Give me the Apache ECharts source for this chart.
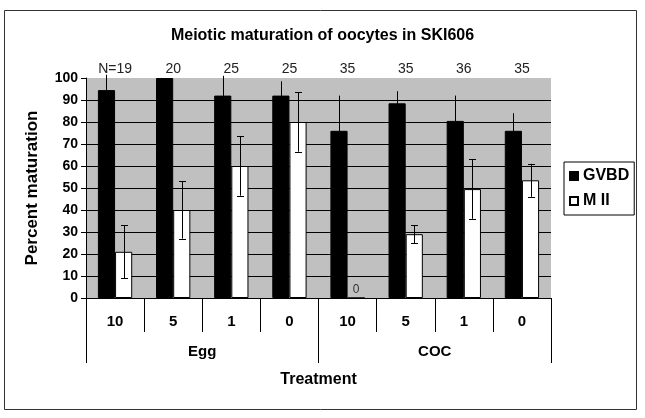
<!DOCTYPE html>
<html>
<head>
<meta charset="utf-8">
<script src="https://cdn.jsdelivr.net/npm/echarts@6/dist/echarts.min.js"></script>
<style>
html,body{margin:0;padding:0;background:#fff;}
#c{width:645px;height:418px;}
</style>
</head>
<body>
<div id="c"></div>
<script>
const categories = ['10', '5', '1', '0', '10', '5', '1', '0'];
const groups = ['Egg', 'COC'];
const nLabels = ['N=19', '20', '25', '25', '35', '35', '36', '35'];
const gvbd = [94.5, 100, 92, 92, 76, 88.5, 80.5, 76];
const gvbdErr = [7, 0, 9, 6.5, 16, 5.5, 11.5, 8];
const mii = [21, 40, 60, 80, 0, 29, 49.5, 53.5];
const miiErr = [12, 13, 13.5, 13.5, 0, 4, 13.5, 7.5];
const yTicks = [0, 10, 20, 30, 40, 50, 60, 70, 80, 90, 100];

const FONT = '"Liberation Sans", Arial, sans-serif';
const GAP = 0.41;

function errRender(side, caps) {
  return function (params, api) {
    const i = api.value(0), v = api.value(1), e = api.value(2);
    if (!e) return null;
    const band = api.size([1, 0])[0];
    const barW = band * (1 - GAP) / 2;
    const c = api.coord([i, v]);
    const x = Math.round(c[0] + side * barW / 2) + 0.5;
    const top = api.coord([i, v + e])[1];
    const bot = api.coord([i, Math.max(v - e, 0)])[1];
    const st = { stroke: '#000', lineWidth: 1 };
    const children = [{ type: 'line', shape: { x1: x, y1: top, x2: x, y2: bot }, style: st }];
    if (caps) {
      const h = 3.5;
      children.push({ type: 'line', shape: { x1: x - h, y1: Math.round(top) + 0.5, x2: x + h, y2: Math.round(top) + 0.5 }, style: st });
      children.push({ type: 'line', shape: { x1: x - h, y1: Math.round(bot) + 0.5, x2: x + h, y2: Math.round(bot) + 0.5 }, style: st });
    }
    return { type: 'group', children: children };
  };
}

const chart = echarts.init(document.getElementById('c'), null, { renderer: 'canvas' });
chart.setOption({
  animation: false,
  backgroundColor: '#fff',
  textStyle: { fontFamily: FONT },
  title: {
    text: 'Meiotic maturation of oocytes in SKI606',
    left: 'center', top: 23,
    textStyle: { fontFamily: FONT, fontSize: 16, fontWeight: 'bold', color: '#000' }
  },
  graphic: [{
    type: 'rect', shape: { x: 4.5, y: 10.5, width: 632, height: 399 },
    style: { fill: 'none', stroke: '#333', lineWidth: 1 }, silent: true, z: -1
  }],
  legend: {
    orient: 'vertical', left: 564, top: 162,
    data: ['GVBD', 'M II'],
    icon: 'rect', itemWidth: 8, itemHeight: 8, itemGap: 9,
    padding: [6, 5, 6, 5],
    borderColor: '#000', borderWidth: 1,
    textStyle: { fontFamily: FONT, fontSize: 16, fontWeight: 'bold', color: '#000' }
  },
  grid: {
    left: 86, top: 78, width: 465, height: 220,
    show: true, backgroundColor: '#c0c0c0', borderWidth: 0
  },
  xAxis: [{
    type: 'category', data: categories, position: 'bottom',
    axisLine: { lineStyle: { color: '#000' } },
    axisTick: { show: true, length: 34, interval: 0, lineStyle: { color: '#000' } },
    axisLabel: { margin: 16, interval: 0, fontFamily: FONT, fontSize: 15, fontWeight: 'bold', color: '#000' }
  }, {
    type: 'category', data: groups, position: 'bottom',
    axisLine: { show: false },
    axisTick: { show: true, length: 65, interval: 0, lineStyle: { color: '#000' } },
    axisLabel: { margin: 46, fontFamily: FONT, fontSize: 15, fontWeight: 'bold', color: '#000' },
    name: 'Treatment', nameLocation: 'middle', nameGap: 74,
    nameTextStyle: { fontFamily: FONT, fontSize: 16, fontWeight: 'bold', color: '#000' }
  }, {
    type: 'category', data: nLabels, position: 'top',
    axisLine: { show: false }, axisTick: { show: false },
    axisLabel: { margin: 2, interval: 0, fontFamily: FONT, fontSize: 14, color: '#222' }
  }],
  yAxis: {
    type: 'value', min: 0, max: 100, interval: 10,
    axisLine: { show: true, lineStyle: { color: '#000' } },
    axisTick: { show: true, length: 5, lineStyle: { color: '#000' } },
    axisLabel: { margin: 8, fontFamily: FONT, fontSize: 14, fontWeight: 'bold', color: '#000',
      formatter: function (v) { return yTicks.indexOf(v) >= 0 ? String(v) : ''; } },
    splitLine: { show: true, showMaxLine: false, lineStyle: { color: '#000', width: 1 } },
    name: 'Percent maturation', nameLocation: 'middle', nameGap: 45,
    nameTextStyle: { fontFamily: FONT, fontSize: 17, fontWeight: 'bold', color: '#000' }
  },
  series: [{
    name: 'GVBD', type: 'bar', xAxisIndex: 0, data: gvbd,
    barGap: '0%', barCategoryGap: (GAP * 100) + '%',
    itemStyle: { color: '#000', borderColor: '#000', borderWidth: 1 }
  }, {
    name: 'M II', type: 'bar', xAxisIndex: 0,
    data: mii.map(function (v) {
      return v === 0 ? { value: v, label: { show: true, position: 'top', distance: 2, formatter: '0',
        fontFamily: FONT, fontSize: 12, color: '#333' } } : v;
    }),
    barGap: '0%', barCategoryGap: (GAP * 100) + '%',
    itemStyle: { color: '#fff', borderColor: '#000', borderWidth: 1 }
  }, {
    name: 'errG', type: 'custom', xAxisIndex: 0, z: 10, clip: false,
    renderItem: errRender(-1, false),
    encode: { x: 0, y: 1 },
    data: gvbd.map(function (v, i) { return [i, v, gvbdErr[i]]; })
  }, {
    name: 'errM', type: 'custom', xAxisIndex: 0, z: 10, clip: false,
    renderItem: errRender(1, true),
    encode: { x: 0, y: 1 },
    data: mii.map(function (v, i) { return [i, v, miiErr[i]]; })
  }]
});
</script>
</body>
</html>
